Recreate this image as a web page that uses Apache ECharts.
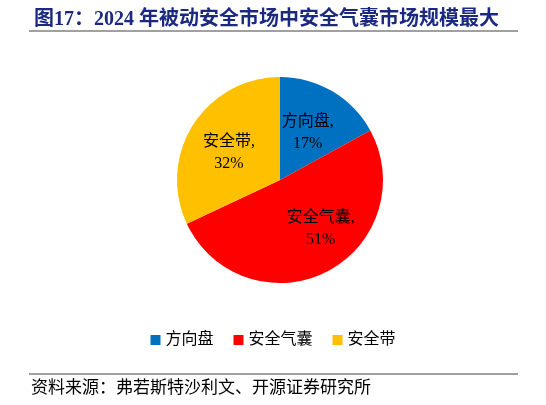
<!DOCTYPE html>
<html lang="zh">
<head>
    <meta charset="UTF-8">
    <title>被动安全市场结构</title>
    <style>
        html, body { margin: 0; padding: 0; background: #fff; }
        #chart { width: 546px; height: 405px; }
    </style>
    <script src="https://cdn.jsdelivr.net/npm/echarts@6/dist/echarts.min.js"></script>
</head>
<body>
<div id="chart"></div>
<script>
    // 2024 年被动安全市场结构
    var categories = ['方向盘', '安全气囊', '安全带'];
    var shares = [17, 51, 32];
    var colors = ['#0070C0', '#FF0000', '#FFC000'];

    var serif = '"Liberation Serif", "Noto Sans CJK SC", serif';

    var chart = echarts.init(document.getElementById('chart'));

    var pieData = [];
    for (var i = 0; i < categories.length; i++) {
        pieData.push({ name: categories[i], value: shares[i], itemStyle: { color: colors[i] } });
    }

    // 标签微调（原图标签位置略偏）
    var labelShift = [[0, 0], [16, 0], [-5, 2]];

    var option = {
        animation: false,
        title: {
            text: '图17：2024 年被动安全市场中安全气囊市场规模最大',
            left: 29,
            top: 5,
            textStyle: {
                color: '#1B2A80',
                fontSize: 20,
                fontWeight: 'bold',
                fontFamily: serif
            }
        },
        legend: {
            bottom: 52,
            left: 'center',
            itemWidth: 10,
            itemHeight: 10,
            itemGap: 20,
            icon: 'rect',
            textStyle: { fontSize: 16, color: '#000', fontFamily: serif },
            data: categories
        },
        graphic: [
            {
                type: 'line',
                shape: { x1: 29, y1: 31, x2: 518, y2: 31 },
                style: { stroke: '#808080', lineWidth: 1.5 }
            },
            {
                type: 'line',
                shape: { x1: 29, y1: 374, x2: 518, y2: 374 },
                style: { stroke: '#404040', lineWidth: 1 }
            },
            {
                type: 'text',
                left: 31,
                top: 380,
                style: {
                    text: '资料来源：弗若斯特沙利文、开源证券研究所',
                    fill: '#000',
                    fontSize: 17,
                    fontFamily: serif
                }
            }
        ],
        series: [{
            type: 'pie',
            center: [280, 180],
            radius: 103,
            startAngle: 90,
            clockwise: true,
            avoidLabelOverlap: false,
            label: {
                show: true,
                position: 'inside',
                formatter: function (p) { return p.name + ',\n' + p.value + '%'; },
                color: '#000',
                fontSize: 16,
                lineHeight: 22,
                fontFamily: serif
            },
            labelLayout: function (params) {
                var s = labelShift[params.dataIndex];
                return { dx: s[0], dy: s[1] };
            },
            labelLine: { show: false },
            itemStyle: { borderWidth: 0 },
            emphasis: { disabled: true },
            data: pieData
        }]
    };
    chart.setOption(option);
</script>
</body>
</html>
